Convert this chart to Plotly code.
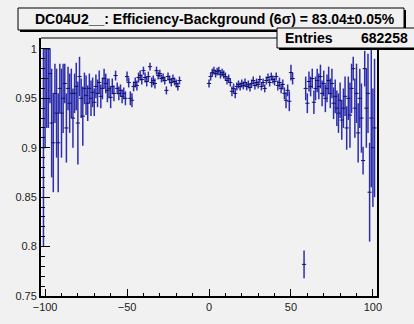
import plotly.graph_objects as go

# efficiency per bin (bin centres on a 1-unit grid)
left_x = list(range(-101, -17))
left_eff = [0.90, 1.00, 0.97, 1.00, 0.975, 0.925, 0.905, 0.955, 0.935, 0.905,
            0.96, 0.935, 0.95, 0.965, 0.92, 0.96, 0.945, 0.955, 0.93, 0.955,
            0.962, 0.925, 0.972, 0.95, 0.932, 0.96, 0.953, 0.945, 0.96, 0.95,
            0.956, 0.946, 0.962, 0.955, 0.966, 0.952, 0.96, 0.97, 0.965, 0.958,
            0.96, 0.951, 0.962, 0.955, 0.973, 0.96, 0.955, 0.958, 0.952, 0.955,
            0.95, 0.972, 0.966, 0.95, 0.948, 0.962, 0.966, 0.963, 0.971, 0.973,
            0.969, 0.978, 0.971, 0.967, 0.972, 0.982, 0.966, 0.968, 0.965, 0.978,
            0.973, 0.975, 0.97, 0.971, 0.968, 0.958, 0.972, 0.969, 0.966, 0.97,
            0.967, 0.965, 0.962, 0.968]
left_err = [0.10, 0.10, 0.05, 0.08, 0.03, 0.055, 0.05, 0.03, 0.045, 0.05,
            0.025, 0.045, 0.035, 0.02, 0.035, 0.022, 0.03, 0.025, 0.03, 0.02,
            0.024, 0.042, 0.02, 0.02, 0.03, 0.016, 0.02, 0.018, 0.015, 0.018,
            0.015, 0.014, 0.012, 0.014, 0.012, 0.012, 0.011, 0.01, 0.01, 0.012,
            0.01, 0.011, 0.008, 0.008, 0.005, 0.006, 0.007, 0.006, 0.007, 0.006,
            0.007, 0.005, 0.005, 0.007, 0.007, 0.005, 0.005, 0.005, 0.005, 0.005,
            0.005, 0.004, 0.005, 0.005, 0.005, 0.004, 0.005, 0.005, 0.005, 0.004,
            0.004, 0.004, 0.004, 0.004, 0.004, 0.004, 0.004, 0.004, 0.004, 0.004,
            0.004, 0.004, 0.004, 0.004]

centre_x = list(range(0, 52))
centre_eff = [0.965, 0.972, 0.976, 0.978, 0.975, 0.977, 0.978, 0.974, 0.976, 0.974,
              0.972, 0.968, 0.97, 0.966, 0.957, 0.96, 0.955, 0.962, 0.964, 0.962,
              0.965, 0.963, 0.966, 0.962, 0.964, 0.961, 0.965, 0.968, 0.963, 0.966,
              0.964, 0.969, 0.962, 0.966, 0.96, 0.968, 0.971, 0.966, 0.972, 0.969,
              0.967, 0.972, 0.963, 0.966, 0.96, 0.964, 0.955, 0.948, 0.958, 0.947,
              0.976, 0.97]
centre_err = [0.004] * 14 + [0.005, 0.005, 0.005] + [0.004] * 25 + \
             [0.005, 0.005, 0.005, 0.005, 0.006, 0.008, 0.006, 0.01, 0.008, 0.006]

lone_x = [58]
lone_eff = [0.782]
lone_err = [0.014]

right_x = list(range(59, 102))
right_eff = [0.96, 0.945, 0.967, 0.962, 0.97, 0.946, 0.96, 0.968, 0.962, 0.972,
             0.955, 0.965, 0.95, 0.96, 0.968, 0.955, 0.965, 0.945, 0.952, 0.94,
             0.935, 0.948, 0.928, 0.94, 0.952, 0.92, 0.95, 0.933, 0.96, 0.98,
             0.94, 0.955, 0.915, 0.95, 0.93, 0.887, 0.98, 0.94, 0.955, 0.855,
             0.93, 0.90, 0.92]
right_err = [0.012, 0.01, 0.01, 0.01, 0.01, 0.012, 0.012, 0.012, 0.013, 0.012,
             0.013, 0.013, 0.014, 0.014, 0.014, 0.015, 0.015, 0.016, 0.017, 0.018,
             0.02, 0.018, 0.02, 0.02, 0.02, 0.022, 0.022, 0.033, 0.025, 0.012,
             0.03, 0.03, 0.03, 0.03, 0.035, 0.014, 0.018, 0.04, 0.04, 0.05,
             0.07, 0.06, 0.07]

title_text = 'DC04U2__: Efficiency-Background (6\u03c3) = 83.04\u00b10.05%'
entries = '682258'

bin_x = left_x + centre_x + lone_x + right_x
eff = left_eff + centre_eff + lone_eff + right_eff
err = left_err + centre_err + lone_err + right_err
# an efficiency cannot go above 1
err_hi = [min(e, 1 - v) for v, e in zip(eff, err)]

W, H = 414, 324
L, R, T, B = 41, 377, 38, 296
BG = '#f1f1f1'


def fx(px):
    return (px - L) / (R - L)


def fy(py):
    return (B - py) / (B - T)


def box(x0, y0, x1, y1):
    # ROOT-style pave: black drop shadow, then the box itself
    return [
        dict(type='rect', xref='paper', yref='paper', layer='above',
             x0=fx(x0 + 2), x1=fx(x1 + 2), y0=fy(y0 + 2), y1=fy(y1 + 2),
             fillcolor='black', line=dict(width=0)),
        dict(type='rect', xref='paper', yref='paper', layer='above',
             x0=fx(x0), x1=fx(x1), y0=fy(y0), y1=fy(y1),
             fillcolor=BG, line=dict(color='black', width=1)),
    ]


trace = go.Scatter(
    x=bin_x,
    y=eff,
    mode='markers',
    marker=dict(symbol='line-ew', size=3, line=dict(width=1, color='#14145a')),
    error_y=dict(type='data', symmetric=False, array=err_hi, arrayminus=err,
                 color='#2d2db0', thickness=1.5, width=0),
    showlegend=False,
    hoverinfo='skip',
)

shapes = [dict(type='line', xref='paper', yref='paper', layer='above',
               x0=0, x1=1, y0=1, y1=1, line=dict(color='black', width=1))]
shapes += box(18, 8, 404, 30)
shapes += box(277, 28, 420, 48)

annotations = [
    dict(text=title_text, xref='paper', yref='paper', x=fx(215), y=fy(19),
         xanchor='center', yanchor='middle', showarrow=False,
         font=dict(family='Liberation Sans', size=14, color='black', weight='bold')),
    dict(text='Entries', xref='paper', yref='paper', x=fx(283), y=fy(38),
         xanchor='left', yanchor='middle', showarrow=False,
         font=dict(family='Liberation Sans', size=14, color='black', weight='bold')),
    dict(text=entries, xref='paper', yref='paper', x=fx(410), y=fy(38),
         xanchor='right', yanchor='middle', showarrow=False,
         font=dict(family='Liberation Sans', size=14, color='black', weight='bold')),
]

layout = go.Layout(
    width=W,
    height=H,
    paper_bgcolor=BG,
    plot_bgcolor=BG,
    margin=dict(l=L, r=W - R, t=T, b=H - B, pad=0),
    font=dict(family='Liberation Sans', size=11, color='#222'),
    xaxis=dict(
        range=[-102.5, 102.5], tick0=0, dtick=50,
        ticks='inside', ticklen=7, tickcolor='black', tickwidth=1,
        minor=dict(dtick=10, ticks='inside', ticklen=3, tickcolor='black', showgrid=False),
        showline=True, linecolor='black', linewidth=2,
        showgrid=False, zeroline=False,
    ),
    yaxis=dict(
        range=[0.75, 1.011], tick0=0.75, dtick=0.05,
        ticks='inside', ticklen=9, tickcolor='black', tickwidth=1,
        minor=dict(dtick=0.01, ticks='inside', ticklen=4, tickcolor='black', showgrid=False),
        showline=True, linecolor='black', linewidth=2, mirror=True,
        showgrid=False, zeroline=False,
    ),
    shapes=shapes,
    annotations=annotations,
)

fig = go.Figure(data=[trace], layout=layout)
# drop the browser's default page margin so the canvas sits at the top-left corner
fig.write_html('out.html',
               config={'displayModeBar': False},
               post_script="document.body.style.margin='0';"
                           "document.body.style.background='%s';" % BG)
